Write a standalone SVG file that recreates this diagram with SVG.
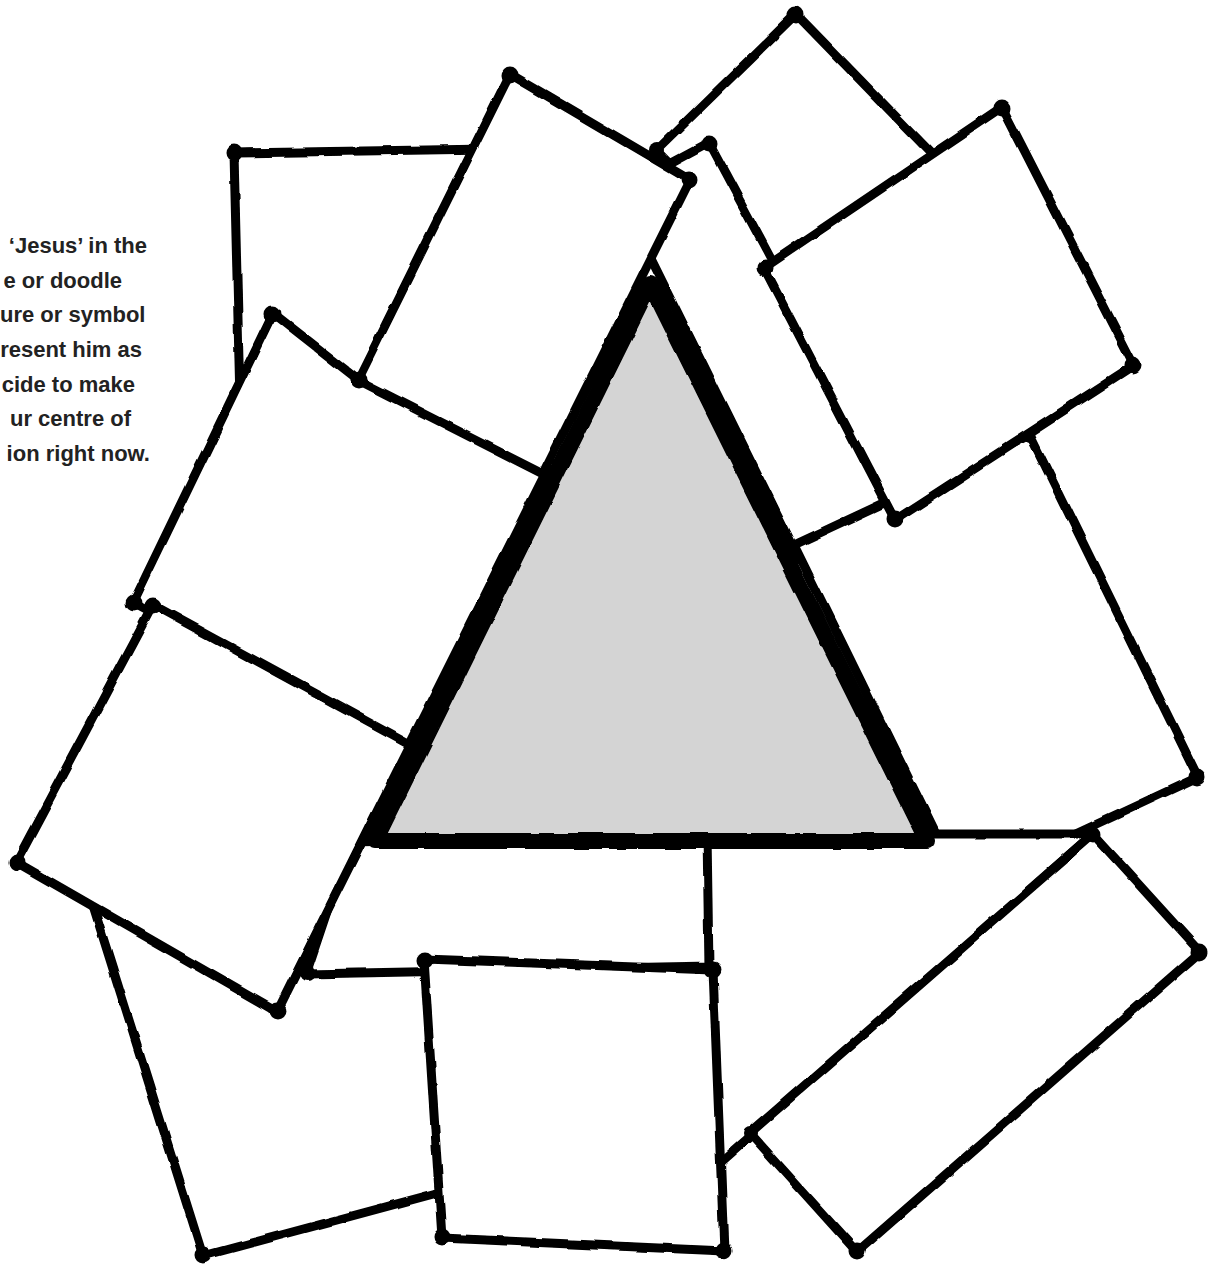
<svg xmlns="http://www.w3.org/2000/svg" width="1210" height="1269" viewBox="0 0 1210 1269">
<defs>
<filter id="wobble" filterUnits="userSpaceOnUse" x="0" y="0" width="1210" height="1269">
<feTurbulence type="fractalNoise" baseFrequency="0.035" numOctaves="2" seed="7" result="n"/>
<feDisplacementMap in="SourceGraphic" in2="n" scale="4" xChannelSelector="R" yChannelSelector="G"/>
</filter>
</defs>
<style>
.card{fill:#fff;stroke:#000;stroke-width:9;stroke-linejoin:round}
.blob{fill:#000}
.tri{fill:#d4d4d4;stroke:#000;stroke-width:16;stroke-linejoin:round}
.txt{font-family:"Liberation Sans",Arial,sans-serif;font-weight:bold;font-size:22px;fill:#222;text-anchor:end}
</style>
<rect width="1210" height="1269" fill="#fff"/>
<g id="instructions">
<text class="txt" x="147" y="253">‘Jesus’ in the</text>
<text class="txt" x="122" y="288">e or doodle</text>
<text class="txt" x="0" y="322" style="text-anchor:start">ure or symbol</text>
<text class="txt" x="142" y="357">resent him as</text>
<text class="txt" x="135" y="392">cide to make</text>
<text class="txt" x="131" y="426">ur centre of</text>
<text class="txt" x="150" y="461">ion right now.</text>
</g>
<g id="drawing" filter="url(#wobble)">
<g id="card-a"><polygon class="card" points="234,153 490,149 490,290 368,388 240,402"/><circle class="blob" cx="234" cy="153" r="8.5"/></g>
<g id="card-d"><polygon class="card" points="796,14 938,160 799,296 657,150"/><circle class="blob" cx="796" cy="15" r="8.5"/><circle class="blob" cx="657" cy="150" r="8"/></g>
<g id="card-e"><polygon class="card" points="709,143 900,500 800,560 618,192"/><circle class="blob" cx="709" cy="144" r="8.5"/></g>
<g id="card-g"><polygon class="card" points="794,545 1030,435 1198,777 962,887"/><circle class="blob" cx="1197" cy="777" r="8.5"/><circle class="blob" cx="1030" cy="437" r="6"/></g>
<g id="card-f"><polygon class="card" points="1002,107 1134,365 895,520 764,268"/><circle class="blob" cx="1002" cy="108" r="8.5"/><circle class="blob" cx="1133" cy="365" r="8.5"/><circle class="blob" cx="895" cy="519" r="8.5"/><circle class="blob" cx="765" cy="268" r="8.5"/></g>
<g id="card-c"><polygon class="card" points="273,313 356,378 548,468 407,750 133,603"/><circle class="blob" cx="273" cy="314" r="8.5"/><circle class="blob" cx="134" cy="603" r="8.5"/></g>
<g id="card-b"><polygon class="card" points="510,74 690,180 543,474 358,380"/><circle class="blob" cx="510" cy="75" r="8.5"/><circle class="blob" cx="689" cy="180" r="8.5"/><circle class="blob" cx="359" cy="380" r="8.5"/></g>
<g id="card-bottom-left"><polygon class="card" points="85,880 455,878 452,1189 203,1256"/><circle class="blob" cx="203" cy="1255" r="8.5"/></g>
<g id="card-bottom-middle"><polygon class="card" points="350,843 708,836 712,966 306,974"/><circle class="blob" cx="307" cy="973" r="8"/></g>
<g id="card-left-lower"><polygon class="card" points="153,605 410,745 277,1012 16,862"/><circle class="blob" cx="153" cy="606" r="8.5"/><circle class="blob" cx="17" cy="862" r="8.5"/><circle class="blob" cx="277" cy="1011" r="8.5"/></g>
<g id="card-h"><polygon class="card" points="707,834 1093,834 712,1170"/><circle class="blob" cx="708" cy="834" r="8.5"/></g>
<g id="card-k"><polygon class="card" points="1093,834 1200,952 857,1252 750,1133"/><circle class="blob" cx="1093" cy="835" r="8.5"/><circle class="blob" cx="1199" cy="952" r="8.5"/><circle class="blob" cx="857" cy="1251" r="8.5"/><circle class="blob" cx="751" cy="1133" r="7"/></g>
<g id="card-i"><polygon class="card" points="424,959 713,970 724,1251 442,1238"/><circle class="blob" cx="425" cy="960" r="8.5"/><circle class="blob" cx="713" cy="970" r="8.5"/><circle class="blob" cx="723" cy="1250" r="8.5"/><circle class="blob" cx="442" cy="1237" r="8.5"/></g>
<g id="centre-triangle"><polygon class="tri" points="650.5,284 375,841 927,841"/></g>
</g>
</svg>
